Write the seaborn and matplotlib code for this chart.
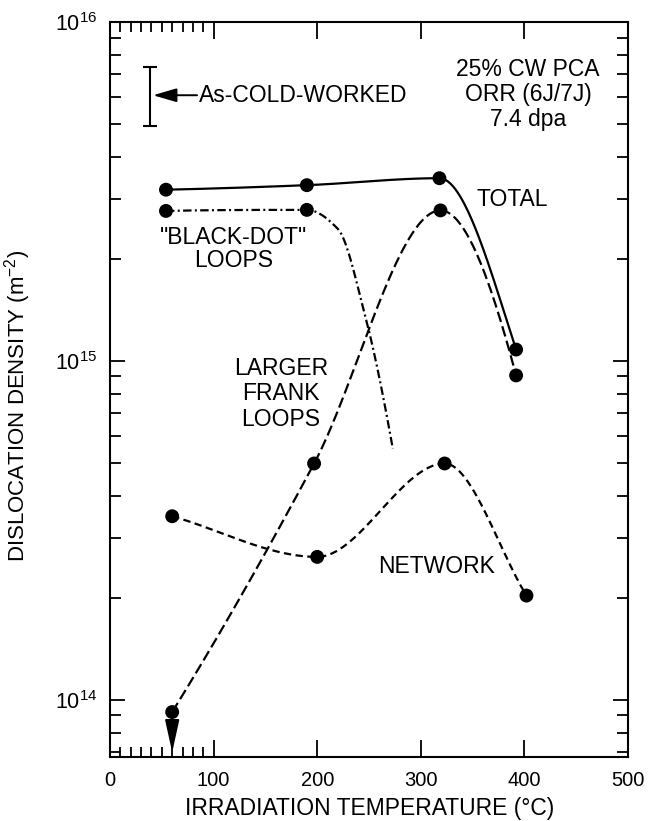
import numpy as np
import pandas as pd
import matplotlib
matplotlib.use("Agg")
import matplotlib.pyplot as plt
import seaborn as sns
from matplotlib.ticker import FixedLocator, FixedFormatter, NullFormatter

# ---- data: dislocation density vs irradiation temperature ----
total_temp = [54, 190, 318, 392]
total_density = [3.20e15, 3.30e15, 3.46e15, 1.08e15]

blackdot_temp = [54, 190]
blackdot_density = [2.77e15, 2.79e15]
# fall-off of the black-dot curve beyond the last measurement
blackdot_fall_temp = [220, 246, 273]
blackdot_fall_density = [2.45e15, 1.37e15, 5.5e14]

frank_temp = [60, 197, 319, 392]
frank_density = [9.2e13, 4.98e14, 2.78e15, 9.06e14]

network_temp = [60, 200, 323, 402]
network_density = [3.48e14, 2.64e14, 4.98e14, 2.03e14]

cold_worked_temp = 39
cold_worked_low = 4.94e15
cold_worked_high = 7.36e15
cold_worked_mid = 6.08e15

x_major = [0, 100, 200, 300, 400, 500]
x_minor = [10, 20, 30, 40, 50, 60, 70, 80, 90]
y_major = [1e14, 1e15, 1e16]
y_major_labels = [r"$\mathregular{10^{14}}$", r"$\mathregular{10^{15}}$", r"$\mathregular{10^{16}}$"]


def pchip(x, y, xs, start="pchip", end="pchip"):
    """Shape-preserving cubic Hermite interpolation; end slopes either
    from the three-point formula or the plain secant."""
    x = np.asarray(x, float)
    y = np.asarray(y, float)
    h = np.diff(x)
    d = np.diff(y) / h
    n = len(x)
    m = np.zeros(n)
    for k in range(1, n - 1):
        if d[k - 1] * d[k] <= 0:
            m[k] = 0.0
        else:
            w1 = 2 * h[k] + h[k - 1]
            w2 = h[k] + 2 * h[k - 1]
            m[k] = (w1 + w2) / (w1 / d[k - 1] + w2 / d[k])

    def end_slope(h0, h1, d0, d1, mode):
        if n == 2 or mode == "secant":
            return d0
        v = ((2 * h0 + h1) * d0 - h0 * d1) / (h0 + h1)
        if np.sign(v) != np.sign(d0):
            return 0.0
        if np.sign(d0) != np.sign(d1) and abs(v) > abs(3 * d0):
            return 3 * d0
        return v

    m[0] = end_slope(h[0], h[1] if n > 2 else h[0], d[0], d[1] if n > 2 else d[0], start)
    m[-1] = end_slope(h[-1], h[-2] if n > 2 else h[-1], d[-1], d[-2] if n > 2 else d[-1], end)
    xs = np.asarray(xs, float)
    idx = np.clip(np.searchsorted(x, xs) - 1, 0, n - 2)
    t = (xs - x[idx]) / h[idx]
    h00 = 2 * t**3 - 3 * t**2 + 1
    h10 = t**3 - 2 * t**2 + t
    h01 = -2 * t**3 + 3 * t**2
    h11 = t**3 - t**2
    return (h00 * y[idx] + h10 * h[idx] * m[idx]
            + h01 * y[idx + 1] + h11 * h[idx] * m[idx + 1])


def smooth(temp, density, num=300, **kw):
    xs = np.linspace(temp[0], temp[-1], num)
    ys = 10 ** pchip(temp, np.log10(density), xs, **kw)
    return pd.DataFrame({"temp": xs, "density": ys})


sns.set_theme(style="ticks")
plt.rcParams["font.family"] = ["Liberation Sans", "DejaVu Sans"]
plt.rcParams["mathtext.fontset"] = "custom"
plt.rcParams["mathtext.rm"] = "Liberation Sans"
plt.rcParams["mathtext.it"] = "Liberation Sans:italic"
plt.rcParams["mathtext.bf"] = "Liberation Sans:bold"
plt.rcParams["text.color"] = "black"
plt.rcParams["axes.labelcolor"] = "black"
plt.rcParams["xtick.color"] = "black"
plt.rcParams["ytick.color"] = "black"

fig = plt.figure(figsize=(6.48, 8.21), dpi=100)
ax = fig.add_axes([0.1698, 0.0780, 0.7993, 0.8952])
ax.set_yscale("log")

lw = 1.6
curves = [
    (smooth(total_temp, total_density), "-"),
    (smooth(blackdot_temp + blackdot_fall_temp,
            blackdot_density + blackdot_fall_density), (0, (3.8, 1.5, 0.9, 1.5))),
    (smooth(frank_temp, frank_density), (0, (4.8, 2.0))),
    (smooth(network_temp, network_density, start="secant", end="secant"), (0, (3.3, 2.0))),
]
for df, ls in curves:
    sns.lineplot(data=df, x="temp", y="density", ax=ax, color="black",
                 linewidth=lw, linestyle=ls, sort=False, estimator=None)

points = pd.DataFrame({
    "temp": total_temp + blackdot_temp + frank_temp + network_temp,
    "density": total_density + blackdot_density + frank_density + network_density,
})
sns.scatterplot(data=points, x="temp", y="density", ax=ax, color="black",
                s=100, edgecolor="none", zorder=5)

# upper-limit arrow on the lowest Frank-loop value
ax.annotate("", xy=(frank_temp[0], 7.0e13), xytext=(frank_temp[0], frank_density[0]),
            arrowprops=dict(arrowstyle="-|>,head_length=1.0,head_width=0.22",
                            mutation_scale=20, color="black", lw=1.4,
                            shrinkA=0, shrinkB=0))

# as-cold-worked range
ax.errorbar([cold_worked_temp], [cold_worked_mid],
            yerr=[[cold_worked_mid - cold_worked_low], [cold_worked_high - cold_worked_mid]],
            fmt="none", ecolor="black", elinewidth=1.5, capsize=5, capthick=1.5)
ax.annotate("", xy=(cold_worked_temp + 2.5, cold_worked_mid), xytext=(84, cold_worked_mid),
            arrowprops=dict(arrowstyle="-|>,head_length=1.2,head_width=0.35",
                            mutation_scale=12, color="black", lw=1.4,
                            shrinkA=0, shrinkB=0))

fs = 16.5
ax.text(86, cold_worked_mid, "As-COLD-WORKED", fontsize=fs, ha="left", va="center")
ax.text(0.807, 0.951, "25% CW PCA\nORR (6J/7J)\n7.4 dpa", transform=ax.transAxes,
        fontsize=fs, ha="center", va="top", linespacing=1.1)
ax.text(354, 3.0e15, "TOTAL", fontsize=fs, ha="left", va="center")
ax.text(119, 2.14e15, "\"BLACK-DOT\"\nLOOPS", fontsize=fs, ha="center", va="center",
        linespacing=1.0)
ax.text(165, 8.0e14, "LARGER\nFRANK\nLOOPS", fontsize=fs, ha="center", va="center",
        linespacing=1.15)
ax.text(315, 2.47e14, "NETWORK", fontsize=fs, ha="center", va="center")

ax.set_xlim(0, 500)
ax.set_ylim(6.78e13, 1e16)
ax.xaxis.set_major_locator(FixedLocator(x_major))
ax.xaxis.set_minor_locator(FixedLocator(x_minor))
ax.xaxis.set_minor_formatter(NullFormatter())
ax.yaxis.set_major_locator(FixedLocator(y_major))
ax.yaxis.set_major_formatter(FixedFormatter(y_major_labels))
y_minor = [k * 10.0**e for e in (13, 14, 15) for k in range(2, 10)]
ax.yaxis.set_minor_locator(FixedLocator(y_minor))
ax.yaxis.set_minor_formatter(NullFormatter())

ax.tick_params(which="both", direction="in", top=True, right=True,
               width=1.3, color="black", labelsize=14.5, labelcolor="black")
ax.tick_params(axis="x", which="major", length=12, pad=10)
ax.tick_params(axis="x", which="minor", length=7)
ax.tick_params(axis="y", which="major", length=11, pad=9, labelsize=15.5)
ax.tick_params(axis="y", which="minor", length=8)
for sp in ax.spines.values():
    sp.set_linewidth(1.5)
    sp.set_color("black")

ax.set_xlabel("IRRADIATION TEMPERATURE (°C)", fontsize=16.5, color="black")
ax.set_ylabel(r"DISLOCATION DENSITY (m$^{-2}$)", fontsize=16, color="black")
ax.xaxis.set_label_coords(0.502, -0.055)
ax.yaxis.set_label_coords(-0.149, 0.478)

fig.savefig("out.png", dpi=100, facecolor="white")
